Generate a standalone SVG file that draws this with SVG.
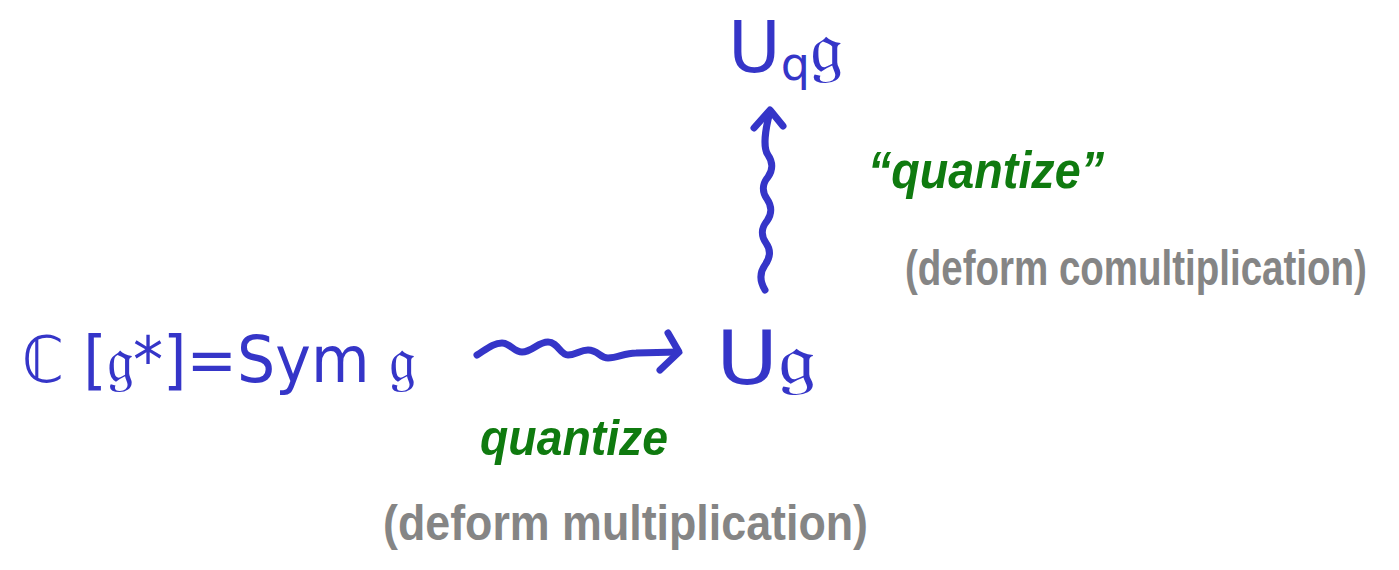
<svg xmlns="http://www.w3.org/2000/svg" width="1399" height="570" viewBox="0 0 1399 570">
<style>
.m{fill:#3535c8;font-family:"DejaVu Sans","Liberation Sans",sans-serif;}
.g{fill:#0f7a0f;font-family:"Liberation Sans","DejaVu Sans",sans-serif;font-style:italic;font-weight:bold;}
.d{fill:#858585;font-family:"Liberation Sans","DejaVu Sans",sans-serif;font-weight:bold;}
.c{fill:none;stroke:#3535c8;stroke-width:7;stroke-linecap:round;stroke-linejoin:round;}
</style>
<rect width="1399" height="570" fill="#ffffff"/>
<g id="sym">
<text class="m" x="22" y="382" font-size="64" textLength="393" lengthAdjust="spacingAndGlyphs">ℂ [𝔤*]=Sym 𝔤</text>
</g>
<g id="ug">
<text class="m" x="716" y="384" font-size="74" textLength="100" lengthAdjust="spacingAndGlyphs">U𝔤</text>
</g>
<g id="uqg">
<text class="m" x="728" y="72" font-size="72">U<tspan font-size="46" dy="8">q</tspan><tspan dy="-8" font-size="74">𝔤</tspan></text>
</g>
<g id="connectors">
<path class="c" d="M477 355 C488 348 494 343 502 343 C510 343 514 352 522 352 C532 352 538 342 548 342 C558 342 560 355 568 355 C576 355 580 350 588 350 C598 350 600 358 608 358 C618 358 624 353 636 353 L678 352"/>
<path class="c" d="M668 333 L679 352 L660 370"/>
<path class="c" d="M765 290 C759 280 760 272 765 265 C770 258 771 250 766 243 C761 236 761 228 767 221 C772 214 772 206 767 199 C762 192 762 184 768 177 C773 170 773 162 768 155 C763 148 765 130 770 112"/>
<path class="c" d="M754 128 L770 110 L783 126"/>
</g>
<g id="label-quantize">
<text class="g" x="480" y="455" font-size="50" textLength="188" lengthAdjust="spacingAndGlyphs">quantize</text>
</g>
<g id="label-mult">
<text class="d" x="383" y="540" font-size="50" textLength="485" lengthAdjust="spacingAndGlyphs">(deform multiplication)</text>
</g>
<g id="label-quantize2">
<text class="g" x="868" y="188" font-size="52" textLength="236" lengthAdjust="spacingAndGlyphs">“quantize”</text>
</g>
<g id="label-comult">
<text class="d" transform="translate(905,285) scale(0.77,1)" x="0" y="0" font-size="50">(deform comultiplication)</text>
</g>
</svg>
